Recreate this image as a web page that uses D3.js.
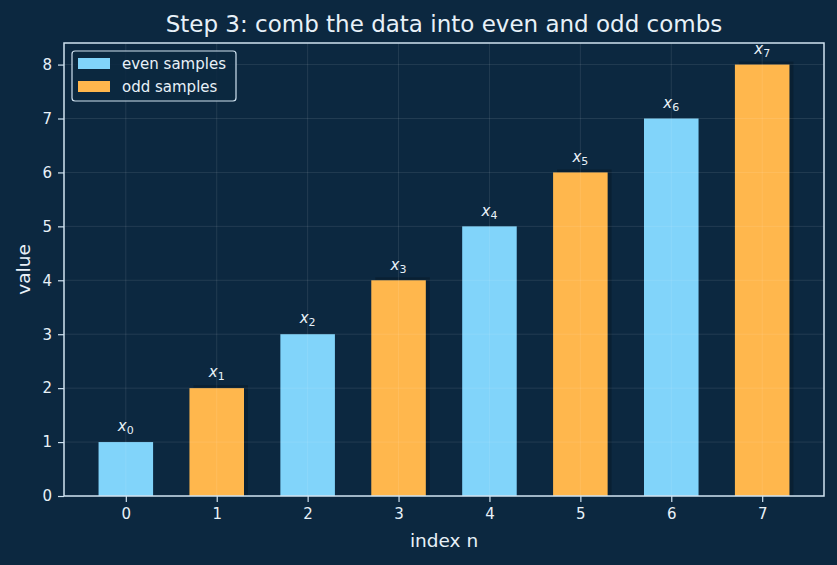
<!DOCTYPE html>
<html>
<head>
<meta charset="utf-8">
<script src="https://cdn.jsdelivr.net/npm/d3@7"></script>
<style>
  body { margin: 0; background: #0c2840; }
  svg { display: block; font-family: "DejaVu Sans", sans-serif; }
</style>
</head>
<body>
<script>
// values of the comb, index n -> value
const indices = [0, 1, 2, 3, 4, 5, 6, 7];
const values = [1, 2, 3, 4, 5, 6, 7, 8];
const yTicks = [0, 1, 2, 3, 4, 5, 6, 7, 8];
const seriesNames = ["even samples", "odd samples"];

const W = 837, H = 565;
const margin = { top: 43, right: 13, bottom: 69, left: 64 };
const fg = "#e8f1f8";
const spine = "#cfe2f0";
const colors = { even: "#81d4fa", odd: "#ffb74d" };

const svg = d3.select("body").append("svg")
  .attr("width", W).attr("height", H);

svg.append("rect").attr("width", W).attr("height", H).attr("fill", "#0c2840");

const x = d3.scaleLinear().domain([-0.68, 7.68]).range([margin.left, W - margin.right]);
const y = d3.scaleLinear().domain([0, 8.4]).range([H - margin.bottom, margin.top]);
const bw = 0.6;

const g = svg.append("g");

// faint dark shadow behind odd bars
g.selectAll(".shadow")
  .data(indices.filter(i => i % 2 === 1))
  .enter().append("rect")
  .attr("x", i => x(i - bw / 2) + 4)
  .attr("y", i => y(values[i]) - 3)
  .attr("width", x(bw) - x(0))
  .attr("height", i => y(0) - y(values[i]) + 3)
  .attr("fill", "#000")
  .attr("opacity", 0.2);

g.selectAll(".bar")
  .data(indices)
  .enter().append("rect")
  .attr("x", i => x(i - bw / 2))
  .attr("y", i => y(values[i]))
  .attr("width", x(bw) - x(0))
  .attr("height", i => y(0) - y(values[i]))
  .attr("fill", i => i % 2 === 0 ? colors.even : colors.odd);

// grid on top, very faint
g.selectAll(".gy").data(yTicks).enter().append("line")
  .attr("x1", margin.left).attr("x2", W - margin.right)
  .attr("y1", d => y(d)).attr("y2", d => y(d))
  .attr("stroke", "#ffffff").attr("stroke-opacity", 0.12).attr("stroke-width", 0.8);
g.selectAll(".gx").data(indices).enter().append("line")
  .attr("y1", margin.top).attr("y2", H - margin.bottom)
  .attr("x1", d => x(d)).attr("x2", d => x(d))
  .attr("stroke", "#ffffff").attr("stroke-opacity", 0.12).attr("stroke-width", 0.8);

// labels x_n above the bars
const lab = g.selectAll(".lab").data(indices).enter().append("text")
  .attr("x", i => x(i))
  .attr("y", i => y(values[i] + 0.2))
  .attr("text-anchor", "middle")
  .attr("fill", fg)
  .attr("font-size", 15);
lab.append("tspan").attr("font-style", "italic").text("x");
lab.append("tspan").attr("font-size", 11).attr("dy", 3).text(i => i);

// axes
const xAxis = svg.append("g")
  .attr("transform", `translate(0,${y(0)})`)
  .call(d3.axisBottom(x).tickValues(indices).tickSize(6).tickPadding(6).tickFormat(d3.format("d")));
const yAxis = svg.append("g")
  .attr("transform", `translate(${margin.left},0)`)
  .call(d3.axisLeft(y).tickValues(yTicks).tickSize(6).tickPadding(6).tickFormat(d3.format("d")));
[xAxis, yAxis].forEach(a => {
  a.select(".domain").remove();
  a.selectAll("line").attr("stroke", spine).attr("stroke-width", 1.2);
  a.selectAll("text").attr("fill", fg).attr("font-size", 15).attr("font-family", "DejaVu Sans");
});

// frame
svg.append("rect")
  .attr("x", margin.left).attr("y", margin.top)
  .attr("width", W - margin.left - margin.right)
  .attr("height", H - margin.top - margin.bottom)
  .attr("fill", "none").attr("stroke", spine).attr("stroke-width", 1.5);

// title and axis labels
svg.append("text").attr("x", x(3.5)).attr("y", 32)
  .attr("text-anchor", "middle").attr("fill", fg).attr("font-size", 23)
  .text("Step 3: comb the data into even and odd combs");
svg.append("text").attr("x", x(3.5)).attr("y", 547)
  .attr("text-anchor", "middle").attr("fill", fg).attr("font-size", 18.5)
  .text("index n");
svg.append("text")
  .attr("transform", `translate(30,${y(4.2)}) rotate(-90)`)
  .attr("text-anchor", "middle").attr("fill", fg).attr("font-size", 18.5)
  .text("value");

// legend
const leg = svg.append("g");
leg.append("rect").attr("x", 72).attr("y", 51).attr("width", 164).attr("height", 50)
  .attr("rx", 3).attr("fill", "#0c2840").attr("fill-opacity", 0.85)
  .attr("stroke", spine).attr("stroke-width", 1.2);
seriesNames.forEach((name, k) => {
  leg.append("rect").attr("x", 78).attr("y", 58 + k * 23).attr("width", 32).attr("height", 11)
    .attr("fill", k === 0 ? colors.even : colors.odd);
  leg.append("text").attr("x", 122).attr("y", 69 + k * 23)
    .attr("fill", fg).attr("font-size", 15).text(name);
});
</script>
</body>
</html>
